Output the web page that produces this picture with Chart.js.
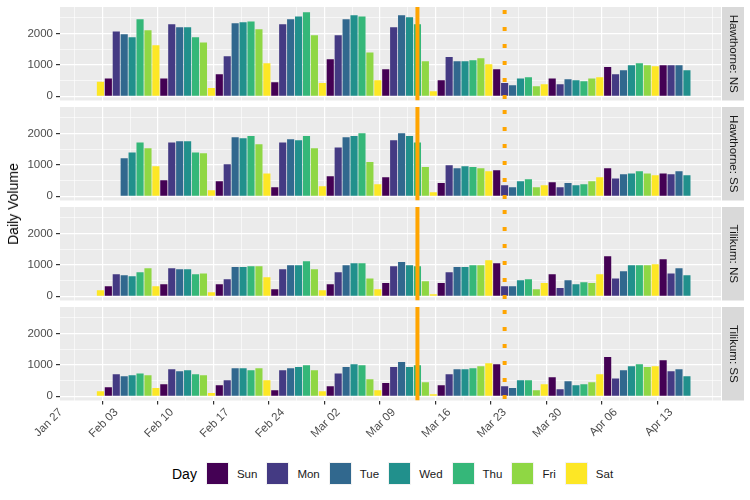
<!DOCTYPE html>
<html lang="en">
<head>
<meta charset="UTF-8">
<title>Daily Volume</title>
<script src="https://cdn.jsdelivr.net/npm/chart.js"></script>
<style>
    body {
        margin: 0;
        width: 750px;
        height: 500px;
        background: #ffffff;
        font-family: 'Liberation Sans', Arial, sans-serif;
        position: relative;
        overflow: hidden;
    }

    .panel {
        position: absolute;
        left: 0;
        width: 750px;
    }

    #ytitle {
        position: absolute;
        left: 13px;
        top: 204px;
        transform: translate(-50%, -50%) rotate(-90deg);
        font-size: 14px;
        color: #000;
        white-space: nowrap;
    }

    .legend {
        position: absolute;
        top: 462px;
        left: 172px;
        display: flex;
        align-items: center;
        height: 23px;
        color: #1a1a1a;
        font-size: 11.5px;
    }

    .legend .title {
        font-size: 14px;
        color: #000;
        margin-right: 9px;
    }

    .legend .key {
        width: 21px;
        height: 21px;
        border: 1px solid #f2f2f2;
        margin-right: 8px;
    }

    .legend .lab {
        margin-right: 9px;
    }
</style>
</head>
<body>
    <div class="panel" style="top:0px;height:104px"><canvas id="p1"></canvas></div>
    <div class="panel" style="top:100px;height:104px"><canvas id="p2"></canvas></div>
    <div class="panel" style="top:200px;height:104px"><canvas id="p3"></canvas></div>
    <div class="panel" style="top:300px;height:150px"><canvas id="p4"></canvas></div>
    <div id="ytitle">Daily Volume</div>
    <div class="legend" id="legend"><span class="title">Day</span></div>

<script>
    // x is days after Jan 27 2020 (a Monday); the first bar is Feb 01
    const firstDay = 5;
    const tickLabels = ['Jan 27', 'Feb 03', 'Feb 10', 'Feb 17', 'Feb 24', 'Mar 02',
        'Mar 09', 'Mar 16', 'Mar 23', 'Mar 30', 'Apr 06', 'Apr 13'];
    const dayNames = ['Sun', 'Mon', 'Tue', 'Wed', 'Thu', 'Fri', 'Sat'];
    const dayColors = ['#440154', '#443A83', '#31688E', '#21908C', '#35B779', '#8FD744', '#FDE725'];
    const closureDay = 45;   // Mar 12, solid line
    const stayHomeDay = 56;  // Mar 23, dotted line

    const hawthorneNS = [
        460, 570, 2070, 1980, 1880, 2460, 2110, 1630, 570, 2300, 2200, 2200, 1880, 1720, 260,
        700, 1280, 2330, 2360, 2390, 2140, 1050, 450, 2300, 2460, 2550, 2680, 1950, 420,
        1180, 1950, 2460, 2590, 2550, 1400, 510, 860, 2200, 2590, 2520, 2300, 1120, 160, 510,
        1250, 1120, 1120, 1150, 1210, 1020, 860, 420, 350, 570, 610, 320, 380, 570, 380, 540,
        510, 480, 570, 610, 930, 700, 830, 990, 1050, 990, 960, 990, 990, 990, 830
    ];
    const hawthorneSS = [
        null, null, null, 1210, 1400, 1720, 1530, 960, 510, 1720, 1760, 1760, 1400, 1370, 190,
        480, 1020, 1880, 1850, 1920, 1660, 730, 290, 1720, 1820, 1790, 1920, 1530, 320,
        640, 1560, 1880, 1920, 2010, 1090, 380, 610, 1790, 2010, 1920, 1720, 930, 130, 420,
        990, 890, 960, 930, 890, 800, 830, 350, 290, 480, 540, 290, 350, 450, 290, 420,
        350, 380, 480, 610, 890, 570, 700, 730, 800, 730, 670, 730, 700, 800, 670
    ];
    const tilikumNS = [
        190, 320, 700, 670, 640, 770, 890, 320, 380, 890, 860, 860, 700, 730, 130,
        380, 540, 930, 930, 960, 960, 610, 220, 860, 990, 990, 1120, 860, 190,
        380, 770, 990, 1050, 1050, 570, 220, 420, 960, 1090, 990, 960, 480, 60, 420,
        770, 930, 930, 990, 990, 1150, 1050, 320, 320, 510, 540, 220, 420, 700, 260, 510,
        380, 450, 420, 700, 1280, 570, 800, 990, 990, 990, 1020, 1180, 730, 890, 670
    ];
    const tilikumSS = [
        160, 290, 700, 640, 670, 730, 670, 260, 380, 860, 800, 830, 700, 670, 100,
        350, 510, 890, 890, 830, 890, 510, 190, 830, 890, 930, 990, 830, 160,
        320, 730, 930, 1020, 990, 540, 190, 420, 930, 1090, 930, 990, 450, 60, 350,
        700, 860, 860, 890, 960, 1050, 1020, 320, 260, 510, 510, 190, 380, 610, 220, 480,
        350, 380, 450, 700, 1250, 570, 830, 960, 1020, 930, 960, 1150, 800, 860, 640
    ];

    const xGrid = [];
    for (let v = 0; v <= 84; v += 3.5) xGrid.push(v);
    const yGrid = [0, 500, 1000, 1500, 2000, 2500];

    // grey panel, strip on the right, and the two reference lines
    const facetPlugin = {
        id: 'facet',
        beforeDraw(chart) {
            const a = chart.chartArea;
            const ctx = chart.ctx;
            ctx.save();
            ctx.fillStyle = '#EBEBEB';
            ctx.fillRect(a.left, a.top, a.right - a.left, a.bottom - a.top);
            ctx.fillStyle = '#D9D9D9';
            ctx.fillRect(a.right + 1, a.top, 22, a.bottom - a.top);
            ctx.translate(a.right + 12, (a.top + a.bottom) / 2);
            ctx.rotate(Math.PI / 2);
            ctx.fillStyle = '#1A1A1A';
            ctx.font = '11.5px "Liberation Sans", Arial, sans-serif';
            ctx.textAlign = 'center';
            ctx.textBaseline = 'middle';
            ctx.fillText(chart.options.plugins.facet.strip, 0, 0);
            ctx.restore();
        },
        afterDatasetsDraw(chart) {
            const a = chart.chartArea;
            const ctx = chart.ctx;
            const x = chart.scales.x;
            ctx.save();
            ctx.beginPath();
            ctx.rect(a.left, a.top, a.right - a.left, a.bottom - a.top);
            ctx.clip();
            ctx.strokeStyle = '#FFA500';
            ctx.lineWidth = 4;
            ctx.beginPath();
            ctx.moveTo(x.getPixelForValue(closureDay), a.top);
            ctx.lineTo(x.getPixelForValue(closureDay), a.bottom);
            ctx.stroke();
            ctx.setLineDash([4, 13]);
            ctx.beginPath();
            ctx.moveTo(x.getPixelForValue(stayHomeDay), a.top + 3);
            ctx.lineTo(x.getPixelForValue(stayHomeDay), a.bottom);
            ctx.stroke();
            ctx.restore();
        }
    };

    function buildPanel(id, values, strip, showX) {
        const points = values.map((v, i) => ({ x: firstDay + i, y: v }));
        const colors = points.map(p => dayColors[(p.x + 1) % 7]);
        const font = { family: "'Liberation Sans', Arial, sans-serif", size: 11.5 };
        return new Chart(document.getElementById(id), {
            type: 'bar',
            data: {
                datasets: [{
                    data: points,
                    backgroundColor: colors,
                    barPercentage: 0.9,
                    categoryPercentage: 1
                }]
            },
            plugins: [facetPlugin],
            options: {
                responsive: true,
                maintainAspectRatio: false,
                animation: false,
                layout: { padding: { left: 0, right: 29, top: 7, bottom: showX ? 0 : 3.5 } },
                plugins: {
                    legend: { display: false },
                    tooltip: { enabled: false },
                    facet: { strip: strip }
                },
                scales: {
                    x: {
                        type: 'linear',
                        min: -0.1,
                        max: 83.3,
                        offset: false,
                        afterBuildTicks: axis => { axis.ticks = xGrid.map(v => ({ value: v })); },
                        afterFit: axis => {
                            axis.height = showX ? 49.5 : 0;
                            axis.paddingLeft = 0;
                            axis.paddingRight = 0;
                        },
                        border: { display: false },
                        grid: {
                            color: '#FFFFFF',
                            lineWidth: c => (c.tick && c.tick.value % 7 === 0) ? 1.2 : 0.6,
                            drawTicks: showX,
                            tickLength: 4,
                            tickWidth: 1.2,
                            tickColor: c => (c.tick && c.tick.value % 7 === 0) ? '#333333' : 'rgba(0,0,0,0)'
                        },
                        ticks: {
                            display: showX,
                            autoSkip: false,
                            maxRotation: 45,
                            minRotation: 45,
                            padding: 1,
                            color: '#4D4D4D',
                            font: font,
                            callback: v => v % 7 === 0 ? tickLabels[v / 7] : ''
                        }
                    },
                    y: {
                        min: -136,
                        max: 2850,
                        afterBuildTicks: axis => { axis.ticks = yGrid.map(v => ({ value: v })); },
                        afterFit: axis => {
                            axis.width = 60;
                            axis.paddingTop = 0;
                            axis.paddingBottom = 0;
                        },
                        border: { display: false },
                        grid: {
                            color: '#FFFFFF',
                            lineWidth: c => (c.tick && c.tick.value % 1000 === 0) ? 1.2 : 0.6,
                            tickLength: 4,
                            tickWidth: 1.2,
                            tickColor: c => (c.tick && c.tick.value % 1000 === 0) ? '#333333' : 'rgba(0,0,0,0)'
                        },
                        ticks: {
                            padding: 3,
                            color: '#4D4D4D',
                            font: font,
                            callback: v => v % 1000 === 0 ? String(v) : ''
                        }
                    }
                }
            }
        });
    }

    buildPanel('p1', hawthorneNS, 'Hawthorne: NS', false);
    buildPanel('p2', hawthorneSS, 'Hawthorne: SS', false);
    buildPanel('p3', tilikumNS, 'Tilikum: NS', false);
    buildPanel('p4', tilikumSS, 'Tilikum: SS', true);

    // legend
    const legend = document.getElementById('legend');
    dayNames.forEach((name, i) => {
        const key = document.createElement('span');
        key.className = 'key';
        key.style.background = dayColors[i];
        const lab = document.createElement('span');
        lab.className = 'lab';
        lab.textContent = name;
        legend.appendChild(key);
        legend.appendChild(lab);
    });
</script>
</body>
</html>
